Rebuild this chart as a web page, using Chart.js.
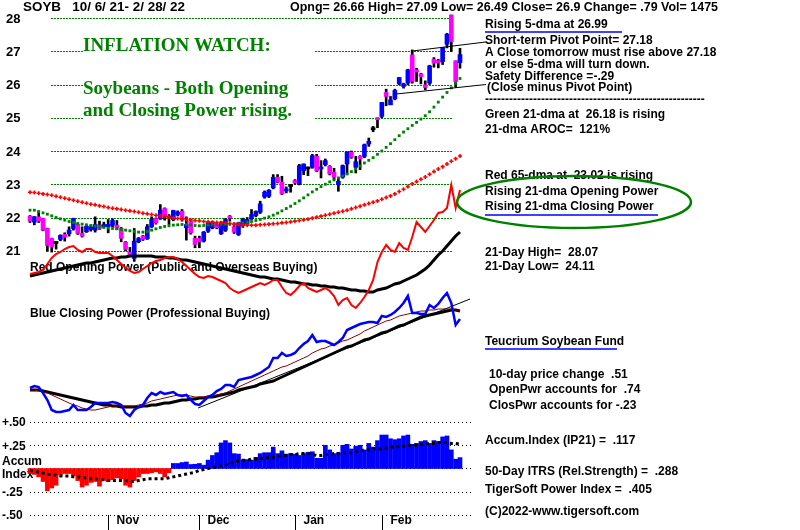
<!DOCTYPE html>
<html>
<head>
<meta charset="utf-8">
<script src="https://cdn.jsdelivr.net/npm/chart.js@4.4.1/dist/chart.umd.min.js"></script>
<style>
  html, body { margin: 0; padding: 0; background: #fff; }
  canvas { display: block; }
</style>
</head>
<body>
<canvas id="soyb" width="800" height="530"></canvas>
<script>
// trading days 10/6/21 - 2/28/22
const dates = [
  '10/6','10/7','10/8','10/11','10/12','10/13','10/14','10/15','10/18','10/19','10/20','10/21','10/22','10/25','10/26','10/27','10/28','10/29',
  '11/1','11/2','11/3','11/4','11/5','11/8','11/9','11/10','11/11','11/12','11/15','11/16','11/17','11/18','11/19','11/22','11/23','11/24','11/26','11/29','11/30',
  '12/1','12/2','12/3','12/6','12/7','12/8','12/9','12/10','12/13','12/14','12/15','12/16','12/17','12/20','12/21','12/22','12/23','12/27','12/28','12/29','12/30','12/31',
  '1/3','1/4','1/5','1/6','1/7','1/10','1/11','1/12','1/13','1/14','1/18','1/19','1/20','1/21','1/24','1/25','1/26','1/27','1/28','1/31',
  '2/1','2/2','2/3','2/4','2/7','2/8','2/9','2/10','2/11','2/14','2/15','2/16','2/17','2/18','2/22','2/23','2/24','2/25','2/28'
];

const opens = [
  22.04,21.86,22.02,21.97,21.67,21.37,21.24,21.34,21.49,21.51,
  21.67,21.79,21.52,21.57,21.64,21.62,21.77,21.72,21.72,21.76,
  21.77,21.67,21.26,20.96,20.77,21.27,21.44,21.36,21.72,21.97,
  21.97,22.27,22.00,21.94,22.09,22.19,21.69,21.89,21.37,21.37,
  21.29,21.59,21.69,21.79,21.51,21.62,22.04,21.72,21.49,21.76,
  21.82,21.96,22.06,22.16,22.62,22.64,22.89,23.21,23.06,22.80,
  22.95,23.11,23.01,23.41,23.46,23.51,23.84,23.46,23.59,23.54,
  23.36,22.99,23.21,23.61,23.96,23.51,23.84,23.84,24.21,24.66,
  24.99,25.04,25.76,25.39,25.57,26.02,25.94,26.04,26.89,26.41,
  26.32,25.99,26.04,26.76,26.71,26.69,27.21,28.09,26.71,26.66
];
const highs = [
  22.06,22.03,22.19,21.98,21.68,21.38,21.26,21.48,21.54,21.72,
  21.98,21.82,21.72,21.76,21.76,22.02,21.89,21.86,21.94,21.96,
  21.91,21.70,21.28,21.10,21.67,21.40,21.46,21.79,22.02,21.99,
  22.39,22.29,22.09,22.22,22.20,22.24,22.02,21.92,21.44,21.44,
  21.58,21.86,21.89,21.82,21.88,21.97,22.06,21.76,21.86,21.98,
  22.00,22.24,22.20,22.49,22.80,22.84,23.29,23.29,23.24,22.92,
  22.99,23.14,23.60,23.61,23.52,23.90,23.90,23.71,23.76,23.56,
  23.48,23.19,23.58,23.98,24.00,23.84,23.86,24.21,24.39,24.74,
  25.00,25.46,25.86,25.64,25.86,26.21,26.04,26.46,27.04,26.49,
  26.34,26.11,26.58,26.81,26.76,27.11,27.54,28.09,26.71,27.09
];
const lows = [
  21.85,21.78,21.85,21.60,20.98,20.96,21.05,21.30,21.29,21.44,
  21.62,21.49,21.41,21.55,21.59,21.56,21.64,21.69,21.54,21.72,
  21.64,21.27,21.00,20.85,20.68,21.24,21.31,21.34,21.70,21.80,
  21.94,21.92,21.79,21.90,22.05,21.89,21.32,21.50,21.09,21.09,
  21.26,21.55,21.66,21.66,21.49,21.58,21.89,21.52,21.46,21.70,
  21.78,21.94,22.02,22.12,22.58,22.60,22.86,23.04,22.69,22.74,
  22.76,23.00,22.98,23.29,23.26,23.48,23.38,23.19,23.55,23.28,
  23.14,22.79,23.18,23.30,23.78,23.34,23.44,23.80,24.14,24.58,
  24.70,25.00,25.36,25.39,25.54,25.99,25.89,25.99,26.04,26.09,
  26.02,25.84,26.00,26.52,26.50,26.60,27.10,26.99,25.92,26.49
];
const closes = [
  21.89,22.02,21.89,21.62,21.16,21.11,21.22,21.46,21.41,21.62,
  21.97,21.52,21.44,21.74,21.72,21.79,21.67,21.79,21.79,21.91,
  21.69,21.37,21.04,20.88,21.29,21.37,21.34,21.72,21.94,21.84,
  22.22,22.02,21.98,22.21,22.16,21.94,21.79,21.54,21.19,21.27,
  21.56,21.84,21.86,21.69,21.86,21.94,21.98,21.56,21.84,21.94,
  21.94,22.09,22.18,22.41,22.76,22.82,23.21,23.06,22.71,22.86,
  22.93,23.04,23.56,23.61,23.48,23.86,23.41,23.51,23.71,23.31,
  23.21,23.09,23.56,23.96,23.81,23.68,23.77,24.19,24.29,24.64,
  24.94,25.46,25.64,25.54,25.82,26.21,26.01,26.44,26.09,26.38,
  26.24,25.91,26.56,26.64,26.66,27.11,27.51,27.29,26.09,26.90
];

// green 21-dma and red 65-dma
const ma21 = [
  22.22,22.22,22.18,22.14,22.10,22.05,22.00,21.96,21.92,21.88,
  21.85,21.82,21.80,21.78,21.76,21.74,21.72,21.70,21.68,21.67,
  21.66,21.64,21.62,21.60,21.58,21.56,21.56,21.58,21.62,21.66,
  21.70,21.73,21.75,21.77,21.78,21.79,21.79,21.78,21.76,21.75,
  21.76,21.77,21.78,21.79,21.79,21.80,21.80,21.81,21.82,21.84,
  21.86,21.88,21.91,21.94,21.98,22.02,22.07,22.13,22.20,22.27,
  22.34,22.42,22.50,22.59,22.68,22.77,22.85,22.93,23.00,23.07,
  23.13,23.19,23.25,23.31,23.38,23.46,23.55,23.64,23.72,23.80,
  23.90,24.00,24.11,24.22,24.34,24.46,24.57,24.67,24.77,24.86,
  24.96,25.06,25.18,25.32,25.47,25.62,25.76,25.90,26.04,26.18
];
const ma65 = [
  22.76,22.75,22.73,22.71,22.69,22.67,22.64,22.61,22.58,22.55,
  22.52,22.49,22.46,22.43,22.40,22.38,22.35,22.33,22.30,22.28,
  22.26,22.24,22.22,22.20,22.18,22.16,22.13,22.11,22.09,22.07,
  22.05,22.03,22.01,21.99,21.97,21.96,21.94,21.93,21.91,21.90,
  21.88,21.87,21.86,21.85,21.84,21.83,21.82,21.80,21.79,21.78,
  21.77,21.77,21.77,21.78,21.79,21.80,21.81,21.82,21.84,21.85,
  21.87,21.89,21.91,21.93,21.95,21.98,22.01,22.04,22.07,22.10,
  22.13,22.16,22.19,22.22,22.26,22.30,22.34,22.38,22.42,22.46,
  22.50,22.55,22.60,22.65,22.71,22.78,22.85,22.93,23.01,23.08,
  23.15,23.22,23.30,23.38,23.46,23.53,23.61,23.69,23.77,23.85
];
// short-term price trendlines: [day index, price]
const upperTrend = [[88.2, 27.01], [105, 27.28]];
const lowerTrend = [[84, 25.71], [105, 26.00]];

// Opening Power (red) and its moving average (black)
const openPower = [
  120.5,121,121.5,122.5,125.5,128.5,130.5,131.5,133,134,
  134.5,132.5,131.5,133,133,131.5,131,131,131,129.5,
  127.5,125.5,123.5,122,121,121.5,123,124.5,126,127,
  127.5,128.5,129,129,128,126.5,124.5,122.5,120.5,119,
  118.5,119.5,119,118,117,116,113.5,112,111,112,
  113,114,115,116,115,116,117.5,117.5,114,111,
  110,112,114.5,116,113.5,112.5,111.5,112.5,113.5,112,
  109.5,105,107.5,108.5,105,103.5,106,109,112.5,117.5,
  126.5,131.5,135,132.5,131.5,136,133.5,132.5,139,146.5,
  144,141.5,144.5,147.5,151,151.5,153.5,165,153.5,162.5
];
const openPowerMA = [
  119.5,120,120.5,121,121.5,122,122.5,123,123.5,124,
  124.5,125,125.5,126,126,126.5,127,127.5,128,128.5,
  128.5,129,129,129.5,129.5,129.5,129.5,129.5,129.5,129,
  129,129,128.5,128.5,128,127.5,127.5,127,126.5,126,
  125.5,125,124.5,124,123.5,123,122.5,122,121.5,121,
  120.5,120,119.5,119,119,118.5,118,118,117.5,117,
  116.5,116.5,116,115.5,115.5,115,115,114.5,114.5,114,
  114,113.5,113.5,113,112.5,112.5,112,112,111.5,111.5,
  112.5,113,113.5,114.5,115.5,116,117,118,119,120,
  121.5,123,125,127.5,130,132,134.5,137,139.5,141.5
];

// Closing Power (blue), its 21-dma (brown), its longer ma (black) and trendline
const closePower = [
  63.5,64.5,64,61,57.5,52.5,51.5,51.5,52,52.5,
  55,52.5,52.5,52.5,54,56,56,56,56,56.5,
  56,55,51,49.5,52.5,54,55,58.5,61,60,
  61.5,60.5,61,61.5,60,59.5,60,57.5,55.5,55,
  57,59,60,62,63,65,65,64,67.5,68,
  68.5,69,70,71,72.5,74,78.5,78.5,81,79.5,
  80,81,83.5,85.5,87,90,86.5,87,87,86,
  85,86.5,88.5,92.5,93.5,94.5,95.5,96,96.5,96.5,
  96,99.5,99,100,101.5,103.5,106,109.5,101,101,
  100.5,100.5,105,103.5,105.5,108.5,111,106,95,98
];
const closePowerMA21 = [
  62.5,62.5,62,61.5,61,60,59,58,57,56,
  55,54.5,53.5,53,52.5,52.5,53,53.5,54,54.5,
  54.5,54.5,54.5,54.5,54.5,55,55.5,56,57,57.5,
  58,58.5,59,59.5,60,60,60,59.5,59,59,
  59,59.5,59.5,60,60.5,61,62,63,64,65,
  66,67,68,69,70,71,72,73,74,74.5,
  75.5,76.5,77.5,78.5,79.5,81,82,83,83.5,84.5,
  85,86,87,87.5,88.5,89.5,90.5,92,93,94,
  95,96,97,97.5,98.5,99.5,100,100.5,101,101.5,
  102,102,102.5,102.5,103,103,103,103,102.5,102
];
const closePowerMA = [
  62.5,62.5,62.5,62,61.5,61,60.5,60,59.5,59,
  58.5,58,57.5,57,56.5,56,55.5,55,55,54.5,
  54.5,54,54,54,54,54,54.5,54.5,55,55,
  55.5,56,56,56.5,57,57.5,57.5,58,58,58.5,
  58.5,59,59,59.5,60,60.5,61,61.5,62.5,63,
  63.5,64,64.5,65.5,66,66.5,67,68,69,70,
  71,72,73,74,75,76,77,78,79,80,
  81,82,83,84,84.5,85.5,86.5,87.5,88,89,
  90,91,91.5,92.5,93.5,94.5,95,96,97,98,
  99,99.5,100,100.5,101,101.5,102,102.5,102.5,102
];
const closePowerTrend = [[38.7, 53.5], [101.3, 108]];

// Accumulation Index (IP21) and its moving average
const accumIndex = [
  -0.054,-0.064,-0.09,-0.14,-0.24,-0.21,-0.18,-0.07,-0.054,-0.054,
  -0.08,-0.13,-0.20,-0.18,-0.15,-0.14,-0.19,-0.13,-0.14,-0.12,
  -0.10,-0.11,-0.18,-0.20,-0.13,-0.09,-0.054,-0.054,-0.046,-0.036,
  -0.054,-0.09,-0.046,0.054,0.054,0.064,0.07,0.043,0.046,0.054,
  0.036,0.09,0.14,0.17,0.275,0.30,0.275,0.16,0.155,0.096,
  0.096,0.09,0.12,0.16,0.17,0.17,0.23,0.16,0.19,0.155,
  0.16,0.155,0.14,0.16,0.175,0.18,0.11,0.11,0.25,0.20,
  0.16,0.17,0.25,0.26,0.21,0.24,0.25,0.20,0.27,0.23,
  0.30,0.36,0.36,0.32,0.31,0.32,0.35,0.36,0.26,0.27,
  0.29,0.30,0.27,0.30,0.29,0.34,0.35,0.20,0.10,0.117
];
const accumMA = [
  -0.02,-0.03,-0.04,-0.05,-0.06,-0.07,-0.07,-0.08,-0.08,-0.08,
  -0.09,-0.09,-0.10,-0.10,-0.11,-0.11,-0.12,-0.12,-0.13,-0.13,
  -0.13,-0.13,-0.13,-0.14,-0.14,-0.13,-0.12,-0.11,-0.11,-0.11,
  -0.11,-0.11,-0.10,-0.09,-0.08,-0.07,-0.06,-0.05,-0.04,-0.02,
  -0.01,0.00,0.01,0.02,0.03,0.04,0.05,0.07,0.08,0.09,
  0.09,0.10,0.10,0.11,0.11,0.12,0.12,0.13,0.14,0.14,
  0.15,0.15,0.16,0.16,0.16,0.15,0.14,0.14,0.15,0.15,
  0.16,0.16,0.17,0.17,0.17,0.18,0.19,0.20,0.20,0.21,
  0.21,0.21,0.22,0.23,0.23,0.24,0.24,0.25,0.25,0.25,
  0.26,0.26,0.27,0.27,0.28,0.28,0.28,0.27,0.27,0.26
];

// tick labels
const priceTicks = [28, 27, 26, 25, 24, 23, 22, 21];
const accumTicks = [0.5, 0.25, 0, -0.25, -0.5];
const accumTickLabels = ['+.50', '+.25', '', '-.25', '-.50'];
const monthLabels = ['Nov', 'Dec', 'Jan', 'Feb'];
const monthStarts = ['11/1', '12/1', '1/3', '2/1'];

const headerLeft = 'SOYB   10/ 6/ 21- 2/ 28/ 22';
const headerRight = 'Opng= 26.66 High= 27.09 Low= 26.49 Close= 26.9 Change= .79 Vol= 1475';

const pts = arr => arr.map((v, i) => ({ x: i, y: v }));
const pairs = arr => arr.map(p => ({ x: p[0], y: p[1] }));

const bodyColor = dates.map((d, i) => {
  const diff = closes[i] - opens[i];
  if (Math.abs(diff) < 0.025) return '#000000';
  return diff > 0 ? '#0000ff' : '#ff00ff';
});

const FONT = '"Liberation Sans", Arial, sans-serif';

// draw text stretched to a given width
function fitText(ctx, text, x, y, w) {
  const m = ctx.measureText(text).width;
  ctx.save();
  ctx.translate(x, y);
  ctx.scale(w / m, 1);
  ctx.fillText(text, 0, 0);
  ctx.restore();
}

const overlay = {
  id: 'overlay',
  beforeDatasetsDraw(chart) {
    const { ctx, scales } = chart;
    const yP = scales.yPrice, yA = scales.yAI, xs = scales.x;
    ctx.save();

    // price grid (green dotted)
    ctx.strokeStyle = '#008000';
    ctx.lineWidth = 1;
    ctx.setLineDash([2, 1]);
    priceTicks.forEach(p => {
      const y = Math.round(yP.getPixelForValue(p)) + 0.5;
      ctx.beginPath(); ctx.moveTo(51, y); ctx.lineTo(453, y); ctx.stroke();
    });

    // accum grid (black dotted)
    ctx.strokeStyle = '#000';
    ctx.setLineDash([1, 3]);
    accumTicks.forEach(v => {
      const y = Math.round(yA.getPixelForValue(v)) + 0.5;
      ctx.beginPath(); ctx.moveTo(30, y); ctx.lineTo(472, y); ctx.stroke();
    });
    ctx.setLineDash([]);

    // price labels
    ctx.fillStyle = '#000';
    ctx.font = 'bold 13px ' + FONT;
    ctx.textBaseline = 'middle';
    ctx.textAlign = 'left';
    priceTicks.forEach(p => ctx.fillText(String(p), 6, yP.getPixelForValue(p) + 1));

    // accum labels
    ctx.font = 'bold 12px ' + FONT;
    accumTicks.forEach((v, i) => {
      if (accumTickLabels[i]) ctx.fillText(accumTickLabels[i], 2, yA.getPixelForValue(v) + 1);
    });
    ctx.fillText('Accum', 2, 462);
    ctx.fillText('Index', 2, 475);

    // month ticks
    ctx.strokeStyle = '#000';
    ctx.lineWidth = 1;
    monthStarts.forEach((d, i) => {
      const x = Math.round(xs.getPixelForValue(dates.indexOf(d))) + 0.5;
      ctx.beginPath(); ctx.moveTo(x, 515); ctx.lineTo(x, 530); ctx.stroke();
      ctx.fillText(monthLabels[i], x + 8, 521);
    });

    // green title box
    ctx.fillStyle = '#fff';
    ctx.fillRect(83, 30, 231, 96);
    ctx.fillStyle = '#008000';
    ctx.font = 'bold 19px "Liberation Serif", "Times New Roman", serif';
    ctx.fillText('INFLATION WATCH:', 83, 46);
    ctx.fillText('Soybeans - Both Opening', 83, 89);
    ctx.fillText('and Closing Power rising.', 83, 111);

    // indicator captions
    ctx.fillStyle = '#000';
    ctx.font = 'bold 12px ' + FONT;
    ctx.fillText('Red Opening Power (Public and Overseas Buying)', 30, 268);
    ctx.fillText('Blue Closing Power (Professional Buying)', 30, 314);
    ctx.restore();
  },
  afterDraw(chart) {
    const { ctx } = chart;
    ctx.save();
    ctx.fillStyle = '#000';
    ctx.textBaseline = 'middle';
    ctx.textAlign = 'left';
    ctx.font = 'bold 12px ' + FONT;
    fitText(ctx, headerLeft, 23, 8, 162);
    fitText(ctx, headerRight, 290, 8, 428);

    const lines = [
      ['Rising 5-dma at 26.99', 485, 25],
      ['Short-term Pivot Point= 27.18', 485, 41],
      ['A Close tomorrow must rise above 27.18', 485, 53],
      ['or else 5-dma will turn down.', 485, 65],
      ['Safety Difference =-.29', 485, 77],
      ['(Close minus Pivot Point)', 487, 88],
      ['-------------------------------------------------------', 485, 100],
      ['Green 21-dma at  26.18 is rising', 485, 115],
      ['21-dma AROC=  121%', 485, 130],
      ['Red 65-dma at  23.02 is rising', 485, 176],
      ['Rising 21-dma Opening Power', 485, 192],
      ['Rising 21-dma Closing Power', 485, 207],
      ['21-Day High=  28.07', 485, 253],
      ['21-Day Low=  24.11', 485, 267],
      ['Teucrium Soybean Fund', 485, 342],
      ['10-day price change  .51', 489, 375],
      ['OpenPwr accounts for  .74', 489, 390],
      ['ClosPwr accounts for -.23', 489, 406],
      ['Accum.Index (IP21) =  .117', 485, 441],
      ['50-Day ITRS (Rel.Strength) =  .288', 485, 472],
      ['TigerSoft Power Index =  .405', 485, 490],
      ['(C)2022-www.tigersoft.com', 485, 512]
    ];
    lines.forEach(l => ctx.fillText(l[0], l[1], l[2]));

    // blue underlines
    ctx.strokeStyle = '#0000ff';
    ctx.lineWidth = 1.5;
    [[485, 622, 32], [485, 658, 215], [485, 617, 349]].forEach(u => {
      ctx.beginPath(); ctx.moveTo(u[0], u[2]); ctx.lineTo(u[1], u[2]); ctx.stroke();
    });

    // green ellipse
    ctx.strokeStyle = '#008000';
    ctx.lineWidth = 2.5;
    ctx.beginPath();
    ctx.ellipse(574, 202, 117, 26, 0, 0, Math.PI * 2);
    ctx.stroke();
    ctx.restore();
  }
};

const lineDs = (data, yAxisID, color, width, order, extra) => Object.assign({
  type: 'line', data, yAxisID, borderColor: color, borderWidth: width,
  pointRadius: 0, tension: 0, fill: false, clip: false, order
}, extra || {});

new Chart(document.getElementById('soyb'), {
  type: 'bar',
  data: {
    datasets: [
      { type: 'bar', data: dates.map((d, i) => ({ x: i, y: [lows[i], highs[i]] })), yAxisID: 'yPrice',
        backgroundColor: '#000', barThickness: 2, grouped: false, clip: false, order: 30 },
      { type: 'bar', data: dates.map((d, i) => ({ x: i, y: [Math.min(opens[i], closes[i]), Math.max(opens[i], closes[i])] })),
        yAxisID: 'yPrice', backgroundColor: bodyColor, barThickness: 4, minBarLength: 2, grouped: false, clip: false, order: 29 },
      lineDs(pts(ma21), 'yPrice', '#008000', 0, 28, { showLine: false, pointRadius: 2, pointStyle: 'rect',
        pointBackgroundColor: '#008000', pointBorderWidth: 0 }),
      lineDs(pts(ma65), 'yPrice', '#ff0000', 0, 27, { showLine: false, pointRadius: 2, pointStyle: 'cross',
        pointBorderColor: '#ff0000', pointBorderWidth: 1.6 }),
      lineDs(pairs(upperTrend), 'yPrice', '#000', 1, 26),
      lineDs(pairs(lowerTrend), 'yPrice', '#000', 1, 26),
      lineDs(pts(openPowerMA), 'yPow', '#000', 3, 25),
      lineDs(pts(openPower), 'yPow', '#ff0000', 2, 24),
      lineDs(pts(closePowerMA), 'yPow', '#000', 3, 23),
      lineDs(pts(closePowerMA21), 'yPow', '#800000', 1, 22),
      lineDs(pairs(closePowerTrend), 'yPow', '#000', 1, 21),
      lineDs(pts(closePower), 'yPow', '#0000ff', 2.5, 20),
      { type: 'bar', data: pts(accumIndex), yAxisID: 'yAI', base: 0,
        backgroundColor: accumIndex.map(v => v < 0 ? '#ff0000' : '#0000ff'),
        barThickness: 4, grouped: false, clip: false, order: 19 },
      lineDs(pts(accumMA), 'yAI', '#000', 3, 18, { borderDash: [3, 3] })
    ]
  },
  options: {
    responsive: false,
    animation: false,
    devicePixelRatio: 1,
    events: [],
    layout: { padding: { left: 30, right: 340, top: 18, bottom: 15 } },
    plugins: { legend: { display: false }, tooltip: { enabled: false } },
    scales: {
      x: { type: 'linear', min: 0, max: 99, offset: false, display: false },
      yPrice: { type: 'linear', min: 13.053, max: 28, display: false },
      yPow: { type: 'linear', min: 0, max: 248.5, display: false },
      yAI: { type: 'linear', min: -0.5, max: 4.844, display: false }
    }
  },
  plugins: [overlay]
});
</script>
</body>
</html>
